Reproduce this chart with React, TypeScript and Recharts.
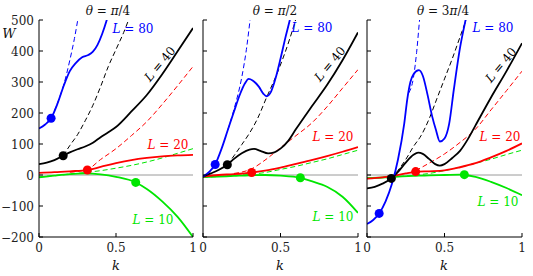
import React from "react";
import {
  ComposedChart, Line, Scatter, XAxis, YAxis, ReferenceLine,
} from "recharts";

type Pt = [number, number];

// k ticks and W ticks
const kTicks = [0, 0.5, 1];
const wTicks = [-200, -100, 0, 100, 200, 300, 400, 500];
const lengths = [10, 20, 40, 80];

// θ = π/4
const p1L80: Pt[] = [[0, 150], [0.04, 163], [0.0785, 183], [0.12, 230], [0.16, 287], [0.2, 335], [0.24, 362], [0.28, 380], [0.32, 387], [0.35, 398], [0.38, 420], [0.41, 455], [0.44, 500], [0.46, 535]];
const p1L80d: Pt[] = [[0.0785, 183], [0.12, 232], [0.16, 290], [0.2, 370], [0.23, 440], [0.26, 525]];
const p1L40: Pt[] = [[0, 35], [0.05, 40], [0.1, 48], [0.157, 62], [0.2, 73], [0.25, 83], [0.3, 92], [0.35, 104], [0.4, 122], [0.45, 138], [0.5, 155], [0.6, 205], [0.7, 258], [0.8, 325], [0.9, 399], [1, 474]];
const p1L40d: Pt[] = [[0.157, 62], [0.2, 95], [0.25, 130], [0.3, 175], [0.35, 225], [0.4, 285], [0.45, 350], [0.5, 405], [0.55, 460], [0.6, 525]];
const p1L20: Pt[] = [[0, 7], [0.1, 9], [0.2, 12], [0.314, 16], [0.4, 26], [0.5, 38], [0.6, 48], [0.7, 55], [0.8, 60], [0.9, 63], [1, 65]];
const p1L20d: Pt[] = [[0.2, 9], [0.314, 18], [0.4, 50], [0.5, 85], [0.6, 127], [0.7, 172], [0.8, 228], [0.9, 288], [1, 350]];
const p1L10: Pt[] = [[0, -8], [0.1, -2], [0.2, 3], [0.3, 5], [0.4, 2], [0.5, -6], [0.628, -24], [0.7, -45], [0.8, -85], [0.9, -135], [1, -200]];
const p1L10d: Pt[] = [[0, -6], [0.1, -2], [0.2, 3], [0.3, 8], [0.4, 14], [0.5, 22], [0.6, 31], [0.7, 42], [0.8, 55], [0.9, 70], [1, 85]];
const p1Dots: Pt[] = [[0.628, -24], [0.314, 16], [0.157, 62], [0.0785, 183]];

// θ = π/2
const p2L80: Pt[] = [[0, -5], [0.04, 10], [0.0785, 34], [0.12, 85], [0.16, 145], [0.2, 205], [0.24, 262], [0.27, 295], [0.295, 310], [0.32, 305], [0.36, 285], [0.39, 262], [0.41, 254], [0.44, 270], [0.47, 315], [0.5, 375], [0.53, 440], [0.56, 500], [0.58, 545]];
const p2L80d: Pt[] = [[0.16, 145], [0.2, 212], [0.25, 315], [0.28, 405], [0.305, 505], [0.32, 565]];
const p2L40: Pt[] = [[0, -5], [0.05, 5], [0.1, 16], [0.157, 33], [0.2, 52], [0.25, 70], [0.3, 82], [0.33, 84], [0.37, 78], [0.42, 70], [0.46, 73], [0.5, 85], [0.55, 110], [0.6, 148], [0.7, 220], [0.8, 290], [0.9, 370], [1, 460]];
const p2L40d: Pt[] = [[0.157, 33], [0.2, 62], [0.25, 98], [0.3, 135], [0.35, 180], [0.41, 250], [0.48, 330], [0.56, 440], [0.6, 505], [0.62, 540]];
const p2L20: Pt[] = [[0, -5], [0.1, 0], [0.2, 3], [0.314, 8], [0.4, 14], [0.5, 24], [0.6, 36], [0.7, 48], [0.8, 61], [0.9, 75], [1, 90]];
const p2L20d: Pt[] = [[0.2, 5], [0.314, 20], [0.4, 48], [0.5, 88], [0.6, 127], [0.7, 167], [0.8, 220], [0.9, 280], [1, 340]];
const p2L10: Pt[] = [[0, -7], [0.1, -5], [0.2, -3], [0.3, -1], [0.4, 0], [0.5, -2], [0.628, -9], [0.7, -20], [0.8, -38], [0.9, -70], [1, -122]];
const p2L10d: Pt[] = [[0, -7], [0.2, -2], [0.3, 2], [0.4, 8], [0.5, 18], [0.6, 28], [0.7, 40], [0.8, 52], [0.9, 66], [1, 80]];
const p2Dots: Pt[] = [[0.628, -9], [0.314, 8], [0.157, 33], [0.0785, 34]];

// θ = 3π/4
const p3L80: Pt[] = [[0, -158], [0.04, -145], [0.0785, -124], [0.12, -85], [0.16, -30], [0.2, 50], [0.24, 165], [0.26, 245], [0.28, 300], [0.3, 325], [0.335, 338], [0.36, 320], [0.39, 260], [0.42, 190], [0.445, 145], [0.47, 108], [0.5, 118], [0.53, 165], [0.56, 275], [0.6, 410], [0.64, 510], [0.66, 560]];
const p3L80d: Pt[] = [[0.27, 265], [0.3, 315], [0.32, 395], [0.34, 505], [0.355, 580]];
const p3L40: Pt[] = [[0, -43], [0.05, -38], [0.1, -28], [0.157, -11], [0.2, 10], [0.25, 40], [0.3, 65], [0.33, 72], [0.36, 68], [0.4, 52], [0.44, 35], [0.47, 30], [0.5, 35], [0.55, 55], [0.6, 78], [0.65, 115], [0.7, 160], [0.8, 250], [0.9, 335], [1, 425]];
const p3L40d: Pt[] = [[0.157, -11], [0.2, 15], [0.25, 50], [0.3, 92], [0.35, 128], [0.4, 180], [0.45, 245], [0.5, 310], [0.55, 375], [0.6, 445], [0.65, 515]];
const p3L20: Pt[] = [[0, -12], [0.1, -8], [0.17, -3], [0.25, 5], [0.314, 10], [0.4, 12], [0.5, 15], [0.6, 25], [0.7, 38], [0.8, 57], [0.9, 78], [1, 102]];
const p3L20d: Pt[] = [[0.314, 14], [0.4, 38], [0.5, 68], [0.6, 105], [0.7, 148], [0.8, 210], [0.9, 272], [1, 335]];
const p3L10: Pt[] = [[0, -10], [0.1, -8], [0.2, -5], [0.3, -3], [0.4, -1], [0.5, 0], [0.6, 1], [0.628, 0], [0.7, -6], [0.8, -22], [0.9, -42], [1, -65]];
const p3L10d: Pt[] = [[0, -10], [0.2, -5], [0.3, -1], [0.4, 5], [0.5, 14], [0.6, 25], [0.7, 38], [0.8, 51], [0.9, 66], [1, 80]];
const p3Dots: Pt[] = [[0.628, 1], [0.314, 11], [0.157, -11], [0.0785, -124]];

const colors = ["#00e600", "#ff0000", "#000000", "#0000ff"];
const FONT = "'DejaVu Serif', serif";

const toRows = (a: Pt[]) => a.map(([k, w]) => ({ k, w }));
const minus = (v: number) => (v < 0 ? "\u2212" + Math.abs(v) : String(v));

const XTick = (p: any) => (
  <g>
    <line x1={p.x} y1={p.y} x2={p.x} y2={p.y - 4} stroke="#000" />
    <text x={p.x} y={p.y + 15} textAnchor="middle" fontSize={12} fill="#222" style={{ fontFamily: FONT }}>
      {p.payload.value}
    </text>
  </g>
);
const TopTick = (p: any) => <line x1={p.x} y1={p.y} x2={p.x} y2={p.y + 4} stroke="#333" />;
const RightTick = (p: any) => <line x1={p.x} y1={p.y} x2={p.x - 4} y2={p.y} stroke="#333" />;
const makeYTick = (show: boolean) => (p: any) => (
  <g>
    <line x1={p.x} y1={p.y} x2={p.x + 4} y2={p.y} stroke="#000" />
    {show && (
      <text x={p.x - 5} y={p.y + 4.5} textAnchor="end" fontSize={12} fill="#222" style={{ fontFamily: FONT }}>
        {minus(p.payload.value)}
      </text>
    )}
  </g>
);

const dotShape = (fill: string) => (p: any) => <circle cx={p.cx} cy={p.cy} r={4.5} fill={fill} />;

interface PanelProps {
  left: number;
  width: number;
  yw: number;
  mr: number;
  showY: boolean;
  solid: Pt[][];
  dashed: Pt[][];
  dots: Pt[];
}

function Panel({ left, width, yw, mr, showY, solid, dashed, dots }: PanelProps) {
  return (
    <div style={{ position: "absolute", left, top: 0 }}>
      <ComposedChart width={width} height={276} margin={{ top: 20, right: mr, left: 0, bottom: 0 }}>
        <XAxis xAxisId="b" type="number" dataKey="k" domain={[0, 1]} ticks={kTicks} interval={0}
          allowDataOverflow height={39} tickSize={0} tickMargin={0}
          axisLine={{ stroke: "#000" }} tickLine={false} tick={XTick} />
        <XAxis xAxisId="t" orientation="top" type="number" dataKey="k" domain={[0, 1]} ticks={kTicks}
          interval={0} allowDataOverflow height={0} tickSize={0} tickMargin={0}
          axisLine={{ stroke: "#808080", strokeWidth: 2 }} tickLine={false} tick={TopTick} />
        <YAxis yAxisId="l" type="number" domain={[-200, 500]} ticks={wTicks} interval={0}
          allowDataOverflow width={yw} tickSize={0} tickMargin={0}
          axisLine={{ stroke: "#000" }} tickLine={false} tick={makeYTick(showY)} />
        <YAxis yAxisId="r" orientation="right" type="number" domain={[-200, 500]} ticks={wTicks}
          interval={0} allowDataOverflow width={0} tickSize={0} tickMargin={0}
          axisLine={{ stroke: "#808080", strokeWidth: 2 }} tickLine={false} tick={RightTick} />
        <ReferenceLine xAxisId="b" yAxisId="l" y={0} stroke="#9a9a9a" strokeWidth={1} />
        {dashed.map((s, i) => (
          <Line key={"d" + i} xAxisId="b" yAxisId="l" data={toRows(s)} dataKey="w" type="monotone"
            stroke={colors[i]} strokeWidth={1} strokeDasharray="5 3" dot={false}
            activeDot={false} isAnimationActive={false} />
        ))}
        {solid.map((s, i) => (
          <Line key={"s" + i} xAxisId="b" yAxisId="l" data={toRows(s)} dataKey="w" type="monotone"
            stroke={colors[i]} strokeWidth={1.8} dot={false} activeDot={false}
            isAnimationActive={false} />
        ))}
        {dots.map((d, i) => (
          <Scatter key={"p" + i} xAxisId="b" yAxisId="l" data={toRows([d])} dataKey="w"
            shape={dotShape(colors[i])} isAnimationActive={false} />
        ))}
      </ComposedChart>
    </div>
  );
}

const txt = (
  content: React.ReactNode, x: number, y: number, color = "#111", rot = 0, size = 12,
) => (
  <div style={{
    position: "absolute", left: x, top: y, transform: `translate(-50%, -50%) rotate(${rot}deg)`,
    whiteSpace: "nowrap", fontFamily: FONT, fontSize: size, color, lineHeight: 1,
  }}>
    {content}
  </div>
);

const lLabel = (n: number) => (
  <span><i>L</i> = {n}</span>
);

export default function App() {
  return (
    <div style={{ position: "absolute", left: 0, top: 0, width: 533, height: 276, background: "#fff", overflow: "hidden" }}>
      <Panel left={0} width={198} yw={39} mr={5} showY
        solid={[p1L10, p1L20, p1L40, p1L80]} dashed={[p1L10d, p1L20d, p1L40d, p1L80d]} dots={p1Dots} />
      <Panel left={198} width={165} yw={5} mr={5} showY={false}
        solid={[p2L10, p2L20, p2L40, p2L80]} dashed={[p2L10d, p2L20d, p2L40d, p2L80d]} dots={p2Dots} />
      <Panel left={363} width={165} yw={4} mr={6} showY={false}
        solid={[p3L10, p3L20, p3L40, p3L80]} dashed={[p3L10d, p3L20d, p3L40d, p3L80d]} dots={p3Dots} />

      {txt(<span><i>θ</i> = <i>π</i>/4</span>, 108, 11)}
      {txt(<span><i>θ</i> = <i>π</i>/2</span>, 275, 11)}
      {txt(<span><i>θ</i> = 3<i>π</i>/4</span>, 443, 11)}

      {txt(<i>W</i>, 9, 33, "#111", 0, 13)}
      {txt(<i>k</i>, 116, 265, "#111", 0, 13)}
      {txt(<i>k</i>, 280, 265, "#111", 0, 13)}
      {txt(<i>k</i>, 444, 265, "#111", 0, 13)}

      {txt(lLabel(lengths[3]), 133, 29, colors[3])}
      {txt(lLabel(lengths[2]), 160, 64, colors[2], -50)}
      {txt(lLabel(lengths[1]), 168, 145, colors[1])}
      {txt(lLabel(lengths[0]), 153, 220, colors[0])}

      {txt(lLabel(lengths[3]), 312, 28, colors[3])}
      {txt(lLabel(lengths[2]), 330, 64, colors[2], -50)}
      {txt(lLabel(lengths[1]), 333, 137, colors[1])}
      {txt(lLabel(lengths[0]), 333, 217, colors[0])}

      {txt(lLabel(lengths[3]), 493, 28, colors[3])}
      {txt(lLabel(lengths[2]), 501, 65, colors[2], -50)}
      {txt(lLabel(lengths[1]), 500, 137, colors[1])}
      {txt(lLabel(lengths[0]), 498, 202, colors[0])}
    </div>
  );
}
